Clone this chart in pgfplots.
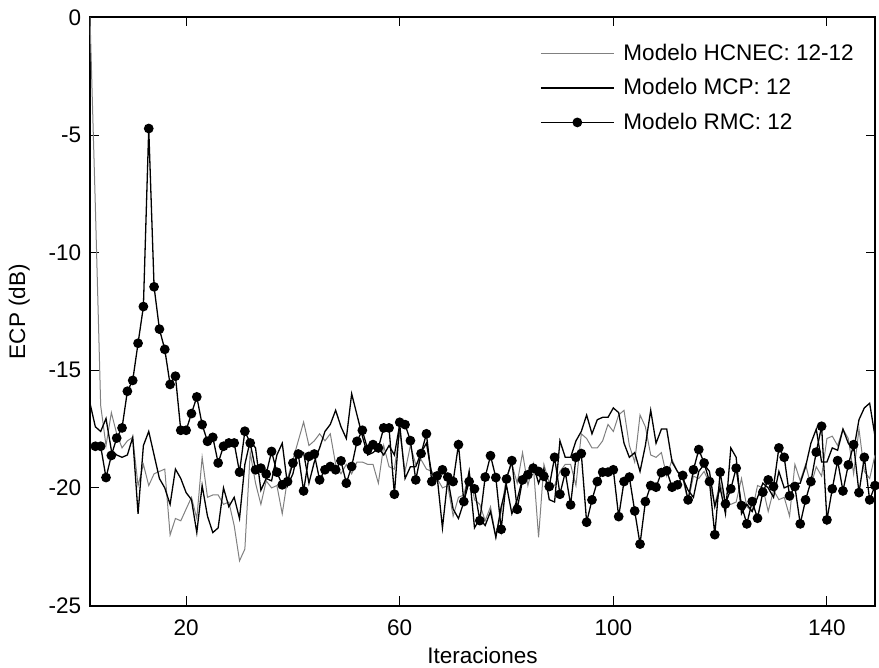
\documentclass[border=0pt]{standalone}
\usepackage{pgfplots}
\pgfplotsset{compat=1.18}
\usepackage{fontspec}
\setmainfont{Liberation Sans}
\begin{document}
\begin{tikzpicture}
\begin{axis}[
 name=ax,
 scale only axis,
 width=392.5bp, height=294bp,
 xmin=2, xmax=149, ymin=-25, ymax=0,
 xtick={20,60,100,140}, xticklabels={20,60,100,140},
 ytick={-25,-20,-15,-10,-5,0}, yticklabels={-25,-20,-15,-10,-5,0},
 tick align=inside, major tick length=4.5bp,
 every tick/.style={black, line width=0.5bp},
 axis line style={line width=1bp},
 font=\fontsize{11.3}{13.5}\selectfont,
 xlabel={Iteraciones}, ylabel={ECP (dB)},
 xlabel style={at={(axis description cs:0.5,-0.0986)}, anchor=base, inner sep=0pt},
 ylabel style={at={(axis description cs:-0.0828,0.5)}, anchor=base, inner sep=0pt},
 xticklabel style={inner sep=0pt, yshift=-7bp},
 yticklabel style={inner sep=0pt, xshift=-4.25bp},
 legend style={draw=none, fill=none, at={(0.573,0.962)}, anchor=north west,
   font=\fontsize{11.3}{13.5}\selectfont, row sep=3.5bp, inner sep=0pt,
   /tikz/every odd column/.append style={column sep=2.5bp}},
 legend cell align=left,
 legend image code/.code={\draw[mark repeat=2,mark phase=2,#1] plot coordinates {(0bp,0bp) (18.25bp,0bp) (36.5bp,0bp)};},
]
\addplot[color=black!50, line width=0.5bp] coordinates {
(2,0)(3,-8)(4,-16.5)(5,-18.2)(6,-16.8)(7,-17.7)(8,-18.3)(9,-18.0)(10,-17.85)(11,-19.9)(12,-19.0)(13,-19.9)(14,-19.4)(15,-19.3)(16,-19.2)(17,-22.0)(18,-21.3)(19,-21.4)(20,-20.9)(21,-20.4)(22,-21.3)(23,-18.7)(24,-20.4)(25,-20.3)(26,-20.3)(27,-20.7)(28,-20.6)(29,-21.6)(30,-23.1)(31,-22.6)(32,-18.5)(33,-19.8)(34,-20.7)(35,-19.7)(36,-20.0)(37,-19.9)(38,-21.1)(39,-19.6)(40,-18.8)(41,-18.0)(42,-17.2)(43,-18.2)(44,-18.0)(45,-17.7)(46,-18.0)(47,-17.7)(48,-19.0)(49,-19.4)(50,-19.0)(51,-19.4)(52,-18.9)(53,-18.9)(54,-19.0)(55,-19.0)(56,-19.8)(57,-18.2)(58,-19.1)(59,-19.2)(60,-17.6)(61,-19.3)(62,-18.2)(63,-19.0)(64,-18.8)(65,-19.2)(66,-19.3)(67,-19.6)(68,-20.0)(69,-19.9)(70,-21.2)(71,-20.4)(72,-20.3)(73,-19.3)(74,-20.5)(75,-20.7)(76,-21.4)(77,-20.8)(78,-22.1)(79,-21.0)(80,-19.5)(81,-19.0)(82,-19.8)(83,-18.5)(84,-19.9)(85,-19.0)(86,-22.1)(87,-19.0)(88,-19.8)(89,-19.9)(90,-19.3)(91,-19.0)(92,-19.0)(93,-19.9)(94,-17.7)(95,-17.9)(96,-18.3)(97,-18.3)(98,-18.0)(99,-17.3)(100,-17.6)(101,-16.9)(102,-16.7)(103,-18.2)(104,-18.9)(105,-16.9)(106,-17.4)(107,-18.6)(108,-18.7)(109,-18.5)(110,-19.5)(111,-18.8)(112,-19.3)(113,-19.6)(114,-20.6)(115,-19.5)(116,-19.6)(117,-19.3)(118,-19.8)(119,-20.7)(120,-19.8)(121,-20.7)(122,-20.7)(123,-20.6)(124,-19.6)(125,-20.8)(126,-21.0)(127,-19.9)(128,-20.0)(129,-21.0)(130,-20.1)(131,-20.5)(132,-20.4)(133,-21.2)(134,-19.0)(135,-19.7)(136,-19.0)(137,-19.9)(138,-19.1)(139,-19.5)(140,-17.9)(141,-17.8)(142,-18.2)(143,-17.5)(144,-17.9)(145,-19.4)(146,-17.5)(147,-19.3)(148,-19.6)(149,-18.6)
};
\addlegendentry{Modelo HCNEC: 12-12}
\addplot[color=black, line width=0.65bp] coordinates {
(2,-16.4)(3,-17.4)(4,-17.6)(5,-17.05)(6,-18.4)(7,-18.6)(8,-18.7)(9,-18.6)(10,-17.85)(11,-21.1)(12,-18.2)(13,-17.6)(14,-18.6)(15,-19.6)(16,-20.0)(17,-20.7)(18,-19.2)(19,-19.6)(20,-20.2)(21,-20.5)(22,-21.9)(23,-19.9)(24,-21.2)(25,-21.9)(26,-21.7)(27,-20.0)(28,-20.8)(29,-20.4)(30,-21.3)(31,-19.0)(32,-18.0)(33,-18.3)(34,-20.1)(35,-19.6)(36,-19.7)(37,-18.6)(38,-18.1)(39,-19.9)(40,-19.4)(41,-18.4)(42,-18.5)(43,-19.8)(44,-18.9)(45,-18.3)(46,-17.6)(47,-17.3)(48,-16.7)(49,-17.4)(50,-17.9)(51,-16.0)(52,-16.9)(53,-17.8)(54,-18.6)(55,-18.5)(56,-18.3)(57,-18.6)(58,-18.2)(59,-18.6)(60,-17.3)(61,-19.6)(62,-19.1)(63,-19.1)(64,-18.5)(65,-18.1)(66,-19.4)(67,-19.5)(68,-21.7)(69,-19.6)(70,-20.9)(71,-21.3)(72,-20.6)(73,-19.3)(74,-21.7)(75,-21.3)(76,-21.6)(77,-21.0)(78,-22.1)(79,-20.8)(80,-19.9)(81,-21.1)(82,-20.5)(83,-19.6)(84,-19.3)(85,-19.0)(86,-19.8)(87,-19.2)(88,-20.5)(89,-20.6)(90,-18.0)(91,-18.7)(92,-18.7)(93,-18.0)(94,-17.6)(95,-16.9)(96,-17.7)(97,-17.1)(98,-17.0)(99,-17.0)(100,-16.6)(101,-16.8)(102,-18.1)(103,-18.7)(104,-18.5)(105,-19.3)(106,-18.2)(107,-16.7)(108,-18.1)(109,-17.5)(110,-17.5)(111,-18.9)(112,-19.3)(113,-19.6)(114,-20.1)(115,-20.4)(116,-19.3)(117,-19.0)(118,-19.3)(119,-20.8)(120,-20.0)(121,-21.1)(122,-18.3)(123,-18.7)(124,-21.1)(125,-20.7)(126,-21.0)(127,-20.4)(128,-19.8)(129,-20.0)(130,-20.4)(131,-19.3)(132,-20.0)(133,-19.9)(134,-19.8)(135,-19.8)(136,-19.1)(137,-18.1)(138,-17.5)(139,-18.9)(140,-18.9)(141,-18.3)(142,-18.4)(143,-17.5)(144,-18.1)(145,-18.4)(146,-17.1)(147,-16.6)(148,-16.4)(149,-17.8)
};
\addlegendentry{Modelo MCP: 12}
\addplot[color=black, line width=0.65bp, mark=*, mark size=2.1bp, mark options={solid, fill=black}] coordinates {
(3,-18.23)(4,-18.23)(5,-19.56)(6,-18.62)(7,-17.88)(8,-17.45)(9,-15.89)(10,-15.43)(11,-13.85)(12,-12.29)(13,-4.72)(14,-11.45)(15,-13.25)(16,-14.11)(17,-15.6)(18,-15.25)(19,-17.55)(20,-17.55)(21,-16.84)(22,-16.13)(23,-17.31)(24,-18.02)(25,-17.85)(26,-18.94)(27,-18.23)(28,-18.09)(29,-18.09)(30,-19.33)(31,-17.59)(32,-18.09)(33,-19.23)(34,-19.16)(35,-19.41)(36,-18.45)(37,-19.33)(38,-19.87)(39,-19.73)(40,-18.94)(41,-18.56)(42,-20.13)(43,-18.66)(44,-18.56)(45,-19.66)(46,-19.23)(47,-19.09)(48,-19.23)(49,-18.85)(50,-19.8)(51,-19.09)(52,-18.02)(53,-17.55)(54,-18.37)(55,-18.16)(56,-18.3)(57,-17.45)(58,-17.45)(59,-20.27)(60,-17.21)(61,-17.31)(62,-17.99)(63,-19.66)(64,-18.54)(65,-17.70)(66,-19.73)(67,-19.49)(68,-19.23)(69,-19.54)(70,-19.73)(71,-18.16)(72,-20.58)(73,-19.73)(74,-20.04)(75,-21.39)(76,-19.54)(77,-18.63)(78,-19.56)(79,-21.76)(80,-19.62)(81,-18.84)(82,-20.91)(83,-19.66)(84,-19.44)(85,-19.16)(86,-19.3)(87,-19.51)(88,-19.94)(89,-18.70)(90,-20.27)(91,-19.33)(92,-20.72)(93,-18.70)(94,-18.54)(95,-21.46)(96,-20.51)(97,-19.73)(98,-19.33)(99,-19.33)(100,-19.23)(101,-21.22)(102,-19.73)(103,-19.54)(104,-20.98)(105,-22.39)(106,-20.58)(107,-19.9)(108,-19.97)(109,-19.35)(110,-19.27)(111,-19.97)(112,-19.87)(113,-19.47)(114,-20.51)(115,-19.23)(116,-18.37)(117,-18.94)(118,-19.73)(119,-21.99)(120,-19.33)(121,-20.68)(122,-20.04)(123,-19.16)(124,-20.75)(125,-21.53)(126,-20.58)(127,-21.29)(128,-20.18)(129,-19.66)(130,-19.94)(131,-18.3)(132,-18.70)(133,-20.34)(134,-19.94)(135,-21.53)(136,-20.51)(137,-19.73)(138,-18.48)(139,-17.38)(140,-21.36)(141,-20.04)(142,-18.84)(143,-20.13)(144,-19.02)(145,-18.16)(146,-20.2)(147,-18.7)(148,-20.51)(149,-19.9)
};
\addlegendentry{Modelo RMC: 12}
\end{axis}
\pgfresetboundingbox
\path[use as bounding box] ([shift={(-45bp,-31.25bp)}]ax.south west) rectangle ([shift={(2bp,8.75bp)}]ax.north east);
\end{tikzpicture}
\end{document}
